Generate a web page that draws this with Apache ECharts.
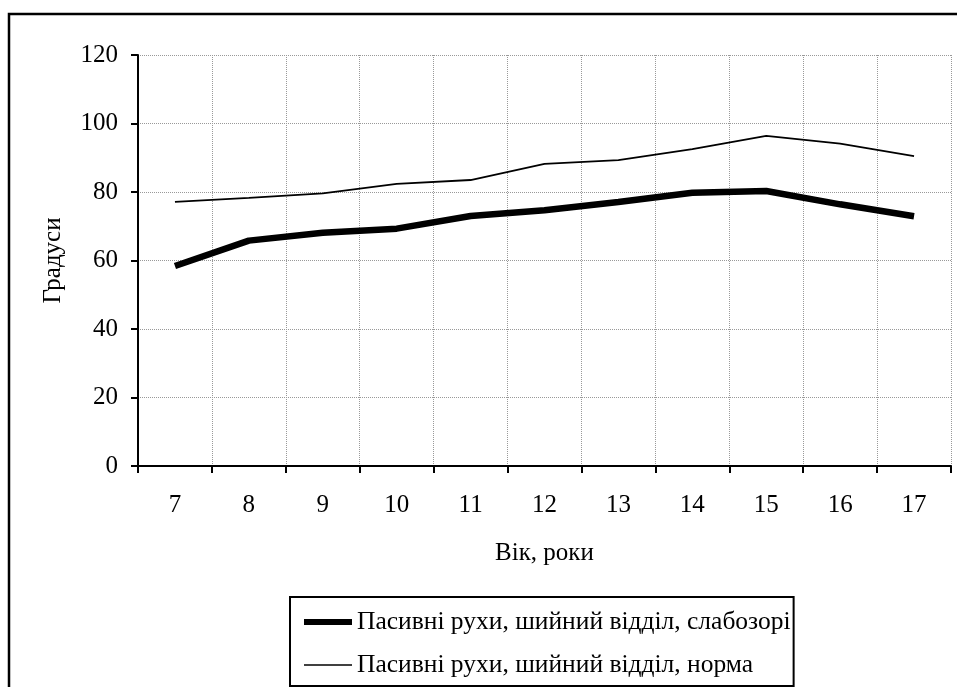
<!DOCTYPE html>
<html>
<head>
<meta charset="utf-8">
<script src="https://cdn.jsdelivr.net/npm/echarts@6/dist/echarts.min.js"></script>
<style>
  html, body { margin: 0; padding: 0; background: #fff; }
  #chart { width: 957px; height: 687px; }
</style>
</head>
<body>
<div id="chart"></div>
<script>
// Age groups (years)
const ages = ['7', '8', '9', '10', '11', '12', '13', '14', '15', '16', '17'];
// Passive neck mobility, degrees
const lowVision = [58.4, 65.8, 68.1, 69.3, 73.0, 74.7, 77.1, 79.8, 80.3, 76.4, 72.9];
const normal = [77.1, 78.3, 79.6, 82.4, 83.5, 88.2, 89.3, 92.5, 96.4, 94.1, 90.5];
const seriesNames = [
  'Пасивні рухи, шийний відділ, слабозорі',
  'Пасивні рухи, шийний відділ, норма'
];
const yTicks = { min: 0, max: 120, step: 20 };

const FONT = 'Liberation Serif';
const AXIS_FS = 25;
const chart = echarts.init(document.getElementById('chart'), null, { renderer: 'canvas' });

const hiddenSymbol = { color: 'rgba(0,0,0,0)', borderColor: 'rgba(0,0,0,0)', borderWidth: 0 };

chart.setOption({
  backgroundColor: '#fff',
  animation: false,
  textStyle: { fontFamily: FONT, color: '#000' },
  graphic: [{
    type: 'rect',
    shape: { x: 9, y: 14, width: 1000, height: 800 },
    style: { fill: 'none', stroke: '#000', lineWidth: 2.5 },
    silent: true
  }],
  grid: { left: 138, right: 6, top: 55, bottom: 221, containLabel: false },
  legend: {
    orient: 'vertical',
    left: 290,
    top: 597,
    height: 200,
    padding: [12, 3, 8, 11],
    itemGap: 17,
    itemWidth: 48,
    itemHeight: 26,
    borderColor: '#000',
    borderWidth: 2,
    textStyle: { fontFamily: FONT, fontSize: 25.5, lineHeight: 26, color: '#000' },
    data: [
      { name: seriesNames[0], lineStyle: { width: 6, color: '#000' }, itemStyle: hiddenSymbol },
      { name: seriesNames[1], lineStyle: { width: 1.5, color: '#000' }, itemStyle: hiddenSymbol }
    ]
  },
  xAxis: {
    type: 'category',
    data: ages,
    boundaryGap: true,
    name: 'Вік, роки',
    nameLocation: 'middle',
    nameGap: 75,
    nameTextStyle: { fontFamily: FONT, fontSize: AXIS_FS, color: '#000' },
    axisLine: { lineStyle: { color: '#000', width: 2 } },
    axisTick: { show: true, length: 7, lineStyle: { color: '#000', width: 2 } },
    axisLabel: { fontFamily: FONT, fontSize: AXIS_FS, color: '#000', margin: 27 },
    splitLine: { show: true, lineStyle: { color: '#999', type: 'dotted', width: 1 } }
  },
  yAxis: {
    type: 'value',
    min: yTicks.min,
    max: yTicks.max,
    interval: yTicks.step,
    name: 'Градуси',
    nameLocation: 'middle',
    nameGap: 72,
    nameRotate: 90,
    nameTextStyle: { fontFamily: FONT, fontSize: AXIS_FS, color: '#000' },
    axisLine: { show: true, lineStyle: { color: '#000', width: 2 } },
    axisTick: { show: true, length: 7, lineStyle: { color: '#000', width: 2 } },
    axisLabel: { fontFamily: FONT, fontSize: AXIS_FS, color: '#000', margin: 20 },
    splitLine: { show: true, lineStyle: { color: '#999', type: 'dotted', width: 1 } }
  },
  series: [
    {
      name: seriesNames[0],
      type: 'line',
      data: lowVision,
      symbol: 'none',
      lineStyle: { color: '#000', width: 6.5 },
      itemStyle: { color: '#000' },
      z: 3
    },
    {
      name: seriesNames[1],
      type: 'line',
      data: normal,
      symbol: 'none',
      lineStyle: { color: '#000', width: 1.8 },
      itemStyle: { color: '#000' },
      z: 3
    }
  ]
});
</script>
</body>
</html>
